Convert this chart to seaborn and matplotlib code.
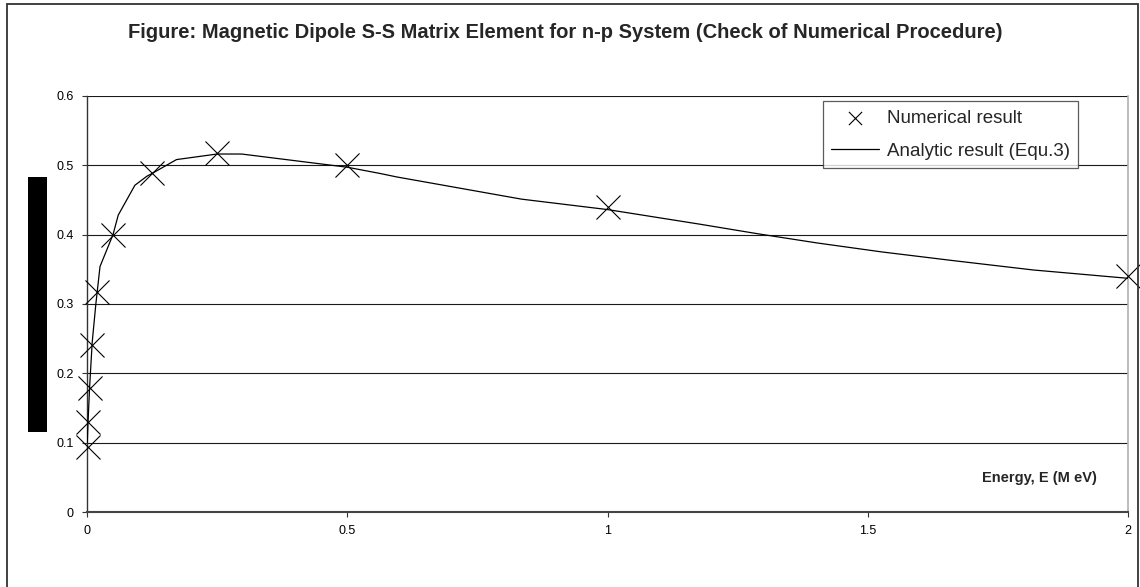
import matplotlib
matplotlib.use("Agg")
import matplotlib.pyplot as plt
import seaborn as sns
import pandas as pd
from matplotlib.patches import Rectangle

# ---- data ----
num_energy = [0.001, 0.002, 0.005, 0.01, 0.02, 0.05, 0.125, 0.25, 0.5, 1.0, 2.0]
num_value = [0.094, 0.13, 0.179, 0.241, 0.318, 0.40, 0.488, 0.517, 0.50, 0.44, 0.34]

ana_energy = [0.0005, 0.002, 0.005, 0.01, 0.017, 0.025, 0.05, 0.06, 0.092, 0.115, 0.125,
              0.172, 0.25, 0.297, 0.5, 0.563, 0.595, 0.835, 1.0, 1.177, 1.29, 1.402,
              1.527, 1.664, 1.818, 2.0]
ana_value = [0.10, 0.13, 0.18, 0.245, 0.30, 0.354, 0.40, 0.428, 0.471, 0.484, 0.488,
             0.508, 0.516, 0.516, 0.497, 0.488, 0.483, 0.451, 0.436, 0.415, 0.401, 0.388,
             0.375, 0.3625, 0.349, 0.337]

y_ticks = [0, 0.1, 0.2, 0.3, 0.4, 0.5, 0.6]
y_labels = ["0", "0.1", "0.2", "0.3", "0.4", "0.5", "0.6"]
x_ticks = [0, 0.5, 1, 1.5, 2]
x_labels = ["0", "0.5", "1", "1.5", "2"]

title = "Figure: Magnetic Dipole S-S Matrix Element for n-p System (Check of Numerical Procedure)"
xlabel = "Energy, E (M eV)"
label_num = "Numerical result"
label_ana = "Analytic result (Equ.3)"

# ---- style ----
sns.set_style("white")
plt.rcParams["font.family"] = ["Liberation Sans", "DejaVu Sans"]

fig = plt.figure(figsize=(11.4, 5.87), dpi=100)
ax = fig.add_axes([87 / 1140, 1 - 512.3 / 587, (1128 - 87) / 1140, (512.3 - 95.7) / 587])

df_num = pd.DataFrame({"E": num_energy, "v": num_value})
df_ana = pd.DataFrame({"E": ana_energy, "v": ana_value})

sns.lineplot(data=df_ana, x="E", y="v", ax=ax, color="black", linewidth=0.9,
             label=label_ana, sort=False, zorder=3)
sns.scatterplot(data=df_num, x="E", y="v", ax=ax, marker="x", s=300, color="black",
                linewidth=0.8, label=label_num, zorder=4, clip_on=False)

ax.set_xlim(0, 2)
ax.set_ylim(0, 0.6)
ax.set_yticks(y_ticks)
ax.set_yticklabels(y_labels)
ax.set_xticks(x_ticks)
ax.set_xticklabels(x_labels)
ax.set_xlabel("")
ax.set_ylabel("")

for t in y_ticks[1:]:
    ax.axhline(t, color="#1a1a1a", linewidth=0.8, zorder=1)

ax.spines["top"].set_visible(False)
ax.spines["right"].set_color("#b0b0b0")
ax.spines["right"].set_linewidth(1.2)
ax.spines["left"].set_color("#333333")
ax.spines["left"].set_linewidth(1.0)
ax.spines["bottom"].set_color("#444444")
ax.spines["bottom"].set_linewidth(1.5)

ax.tick_params(axis="both", which="major", direction="out", length=3.5, width=0.8,
               colors="#333333", labelcolor="black", labelsize=9, pad=6, bottom=True, left=True)

ax.text((1097 - 87) / 1041, (512.3 - 478) / 416.6, xlabel, transform=ax.transAxes,
        ha="right", va="center", fontsize=10.5, fontweight="bold")

fig.text(565 / 1140, 1 - 32 / 587, title, ha="center", va="center",
         fontsize=14.5, fontweight="bold")

h, l = ax.get_legend_handles_labels()
order = [l.index(label_num), l.index(label_ana)]
leg = ax.legend([h[i] for i in order], [l[i] for i in order],
                loc="upper left", bbox_to_anchor=((823 - 87) / 1041, (512.3 - 101) / 416.6),
                frameon=True, fancybox=False, shadow=False, fontsize=13.5,
                borderpad=0.45, labelspacing=0.85, handlelength=2.55, handletextpad=0.4,
                borderaxespad=0)
leg.get_frame().set_edgecolor("#333333")
leg.get_frame().set_linewidth(0.9)
for lh in leg.legend_handles:
    try:
        lh.set_sizes([90])
    except AttributeError:
        pass

# redaction bar on the left
fig.patches.append(Rectangle((28 / 1140, 1 - 432 / 587), 19 / 1140, 255 / 587,
                             transform=fig.transFigure, facecolor="black",
                             edgecolor="none", zorder=5))
# outer chart frame
fig.patches.append(Rectangle((7 / 1140, -0.05), (1138 - 7) / 1140, 1.05 - 4 / 587,
                             transform=fig.transFigure, facecolor="none",
                             edgecolor="#333333", linewidth=1.3, zorder=5))

fig.savefig("out.png", dpi=100)
